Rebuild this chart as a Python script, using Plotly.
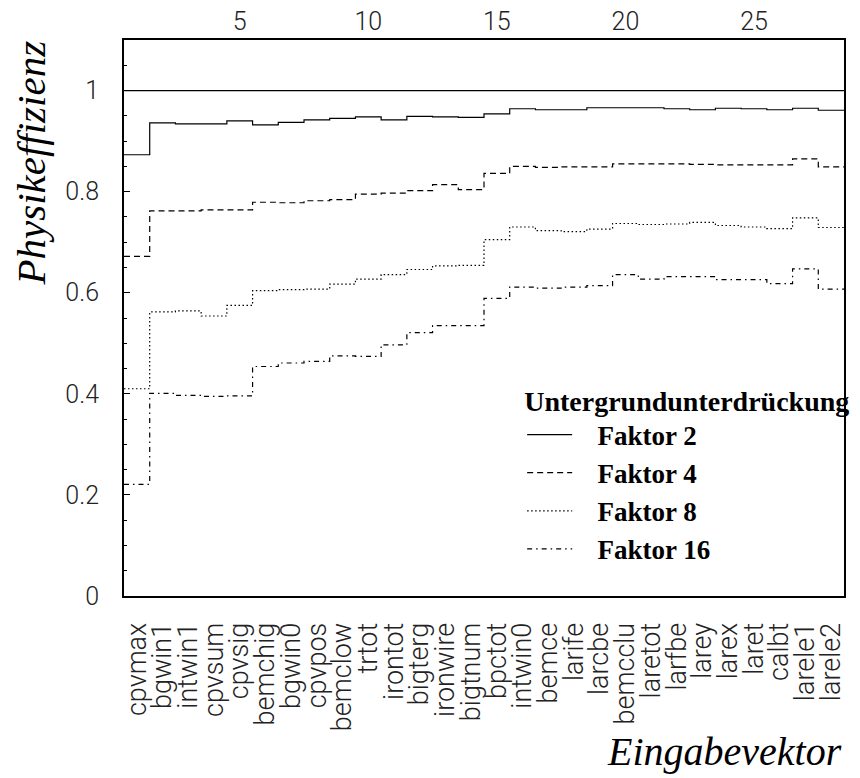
import numpy as np
import plotly.graph_objects as go

# Input variables, in the order they are added to the network
categories = ["cpvmax", "bgwin1", "intwin1", "cpvsum", "cpvsig", "bemchig", "bgwin0",
              "cpvpos", "bemclow", "trtot", "irontot", "bigterg", "ironwire", "bigtnum",
              "bpctot", "intwin0", "bemce", "larife", "larcbe", "bemcclu", "laretot",
              "larfbe", "larey", "larex", "laret", "calbt", "larele1", "larele2"]

# Physics efficiency for each background suppression factor
faktor2 = [0.873, 0.936, 0.934, 0.934, 0.940, 0.932, 0.937, 0.942, 0.945, 0.948,
           0.942, 0.949, 0.948, 0.947, 0.954, 0.964, 0.962, 0.962, 0.966, 0.966,
           0.966, 0.964, 0.962, 0.965, 0.964, 0.962, 0.965, 0.961]
faktor4 = [0.672, 0.762, 0.762, 0.764, 0.764, 0.779, 0.778, 0.782, 0.784, 0.795,
           0.797, 0.802, 0.814, 0.804, 0.836, 0.850, 0.848, 0.849, 0.849, 0.855,
           0.855, 0.855, 0.854, 0.853, 0.853, 0.853, 0.865, 0.849]
faktor8 = [0.410, 0.562, 0.564, 0.554, 0.575, 0.604, 0.606, 0.607, 0.617, 0.627,
           0.636, 0.646, 0.653, 0.654, 0.705, 0.730, 0.723, 0.721, 0.726, 0.737,
           0.735, 0.736, 0.739, 0.733, 0.730, 0.727, 0.748, 0.729]
faktor16 = [0.221, 0.401, 0.397, 0.395, 0.396, 0.454, 0.461, 0.464, 0.475, 0.474,
            0.497, 0.521, 0.535, 0.535, 0.589, 0.611, 0.609, 0.611, 0.614, 0.636,
            0.627, 0.632, 0.632, 0.626, 0.626, 0.618, 0.647, 0.607]

series = [
    ("Faktor 2", faktor2, "solid"),
    ("Faktor 4", faktor4, "6px,4px"),
    ("Faktor 8", faktor8, "1.5px,2.5px"),
    ("Faktor 16", faktor16, "5px,4px,1.5px,4px"),
]

top_ticks = [5, 10, 15, 20, 25]

n = len(categories)
positions = np.arange(1, n + 1)
edges = np.arange(n + 1) + 0.5
x_range = [0.5, n + 0.5]

sans = dict(family="Roboto", size=25, color="#222222", weight=300)
sans_cat = dict(family="Roboto", size=27, color="#222222", weight=300)
serif_title = dict(family="Liberation Serif", size=28, color="black", weight="bold")
serif_bold = dict(family="Liberation Serif", size=27, color="black", weight="bold")
serif_it = dict(family="Liberation Serif", size=40, color="black", style="italic")

# gap between the legend line sample and its label
pad = "\u00a0" * 3

fig = go.Figure()

for name, vals, dash in series:
    fig.add_trace(go.Scatter(
        x=edges, y=list(vals) + [vals[-1]],
        mode="lines", line_shape="hv",
        line=dict(color="black", width=1.2, dash=dash),
        name=pad + name,
    ))

# Helper trace so the top axis is drawn
fig.add_trace(go.Scatter(x=[None], y=[None], xaxis="x2", showlegend=False,
                         hoverinfo="skip"))

# Full-efficiency reference level
fig.add_hline(y=1.0, line=dict(color="black", width=1.2))

fig.update_layout(
    width=860, height=778,
    margin=dict(l=124, r=8, t=40, b=182),
    paper_bgcolor="white", plot_bgcolor="white",
    showlegend=True,
    legend=dict(
        x=0.553, y=0.399, xanchor="left", yanchor="top",
        bgcolor="rgba(0,0,0,0)",
        title=dict(text="<b>Untergrundunterdrückung</b>", font=serif_title),
        font=serif_bold,
        itemwidth=45,
        tracegroupgap=0,
    ),
    xaxis=dict(
        range=x_range, tickmode="array", tickvals=positions, ticktext=categories,
        tickangle=-90, tickfont=sans_cat, ticks="", ticklabelstandoff=14,
        showgrid=False, zeroline=False,
        showline=True, linecolor="black", linewidth=2, mirror=True,
    ),
    xaxis2=dict(
        range=x_range, overlaying="x", side="top", tickmode="array",
        tickvals=top_ticks, ticktext=[str(t) for t in top_ticks],
        tickfont=sans, ticks="", ticklabelstandoff=4,
        showgrid=False, zeroline=False, showline=False,
    ),
    yaxis=dict(
        range=[0, 1.1], tickmode="array", tickvals=[0, 0.2, 0.4, 0.6, 0.8, 1.0],
        ticktext=["0", "0.2", "0.4", "0.6", "0.8", "1"], tickfont=sans,
        ticks="inside", ticklen=6, tickcolor="black",
        minor=dict(dtick=0.05, tick0=0, ticks="inside", ticklen=3, tickcolor="black"),
        ticklabelstandoff=18,
        showgrid=False, zeroline=False,
        showline=True, linecolor="black", linewidth=2, mirror=True,
    ),
    annotations=[
        dict(text="Physikeffizienz", xref="paper", yref="paper",
             x=-0.129, y=0.778, xanchor="center", yanchor="middle",
             textangle=-90, showarrow=False,
             font=dict(family="Liberation Serif", size=41, color="black", style="italic")),
        dict(text="Eingabevektor", xref="paper", yref="paper",
             x=1.0, y=-0.28, xanchor="right", yanchor="middle",
             showarrow=False, font=serif_it),
    ],
)

fig.write_html("out.html")
